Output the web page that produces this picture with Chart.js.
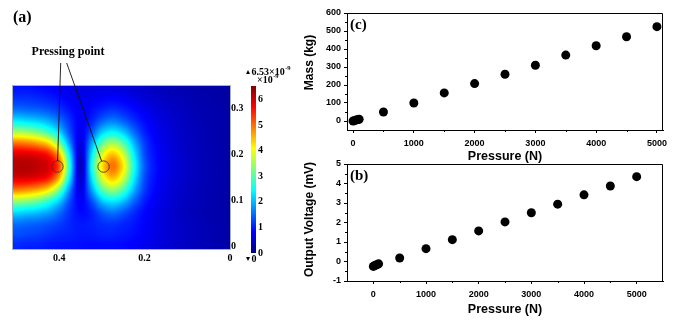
<!DOCTYPE html>
<html>
<head>
<meta charset="utf-8">
<script src="https://cdn.jsdelivr.net/npm/chart.js@4.4.1/dist/chart.umd.min.js"></script>
<style>
  html, body { margin: 0; padding: 0; background: #fff; }
  #wrap { position: relative; width: 680px; height: 320px; overflow: hidden; }
  #wrap canvas { position: absolute; }
</style>
</head>
<body>
<div id="wrap">
  <canvas id="heatChart" width="250" height="280" style="left:0;top:0"></canvas>
  <canvas id="colorBar" width="60" height="210" style="left:240px;top:60px"></canvas>
  <canvas id="massChart" width="390" height="166" style="left:290px;top:0"></canvas>
  <canvas id="voltChart" width="390" height="165" style="left:290px;top:155px"></canvas>
</div>
<script>
// Panel (a): field values (x10^-9) on a grid, rows from top (y = 0.35) to bottom (y = 0)
const heatX = [0.5, 0.475, 0.45, 0.425, 0.4, 0.375, 0.35, 0.325, 0.3, 0.275, 0.25,
               0.225, 0.2, 0.175, 0.15, 0.125, 0.1, 0.075, 0.05, 0.025, 0];
const heatY = [0.35, 0.325, 0.3, 0.275, 0.25, 0.225, 0.2, 0.175, 0.15, 0.125, 0.1, 0.075, 0.05, 0.025, 0];
const heatGrid = [
  [0.9, 0.9, 0.85, 0.8, 0.72, 0.65, 0.6, 0.6, 0.6, 0.6, 0.55, 0.5, 0.45, 0.4, 0.35, 0.32, 0.3, 0.28, 0.26, 0.24, 0.22],
  [1.1, 1.1, 1.05, 0.98, 0.88, 0.75, 0.7, 0.72, 0.78, 0.8, 0.75, 0.65, 0.55, 0.48, 0.42, 0.38, 0.34, 0.3, 0.28, 0.25, 0.23],
  [1.5, 1.45, 1.4, 1.3, 1.12, 0.9, 0.75, 0.85, 1.0, 1.1, 1.0, 0.85, 0.7, 0.58, 0.5, 0.43, 0.38, 0.33, 0.3, 0.27, 0.24],
  [2.3, 2.2, 2.1, 1.9, 1.55, 1.1, 0.75, 1.0, 1.4, 1.6, 1.4, 1.1, 0.85, 0.68, 0.56, 0.47, 0.4, 0.35, 0.31, 0.28, 0.25],
  [3.5, 3.4, 3.2, 2.8, 2.2, 1.3, 0.7, 1.3, 2.1, 2.4, 2.1, 1.5, 1.0, 0.75, 0.6, 0.5, 0.42, 0.36, 0.32, 0.28, 0.25],
  [5.0, 4.9, 4.7, 4.3, 3.3, 1.7, 0.6, 1.8, 3.0, 3.5, 3.0, 2.0, 1.2, 0.82, 0.63, 0.52, 0.44, 0.37, 0.32, 0.28, 0.25],
  [5.95, 5.95, 5.85, 5.6, 4.6, 2.3, 0.45, 2.2, 3.8, 4.5, 3.8, 2.4, 1.3, 0.88, 0.66, 0.54, 0.45, 0.38, 0.33, 0.29, 0.25],
  [6.2, 6.2, 6.1, 5.95, 5.2, 2.6, 0.35, 2.4, 4.2, 5.0, 4.2, 2.6, 1.4, 0.9, 0.68, 0.55, 0.46, 0.38, 0.33, 0.29, 0.25],
  [5.95, 5.95, 5.85, 5.6, 4.6, 2.3, 0.45, 2.2, 3.8, 4.5, 3.8, 2.4, 1.3, 0.88, 0.66, 0.54, 0.45, 0.38, 0.33, 0.29, 0.25],
  [5.0, 4.9, 4.7, 4.3, 3.3, 1.7, 0.6, 1.8, 3.0, 3.5, 3.0, 2.0, 1.2, 0.82, 0.63, 0.52, 0.44, 0.37, 0.32, 0.28, 0.25],
  [3.5, 3.4, 3.2, 2.8, 2.2, 1.3, 0.75, 1.3, 2.1, 2.4, 2.1, 1.5, 1.0, 0.75, 0.6, 0.5, 0.42, 0.36, 0.32, 0.28, 0.25],
  [2.3, 2.2, 2.1, 1.9, 1.55, 1.1, 0.85, 1.0, 1.4, 1.6, 1.4, 1.1, 0.85, 0.68, 0.56, 0.47, 0.4, 0.35, 0.31, 0.28, 0.25],
  [1.55, 1.5, 1.45, 1.35, 1.22, 1.05, 0.95, 1.0, 1.1, 1.15, 1.05, 0.95, 0.8, 0.66, 0.56, 0.48, 0.42, 0.37, 0.33, 0.29, 0.26],
  [1.3, 1.25, 1.2, 1.12, 1.05, 1.0, 0.95, 0.95, 1.0, 1.0, 0.95, 0.88, 0.78, 0.66, 0.56, 0.49, 0.43, 0.38, 0.34, 0.3, 0.27],
  [1.05, 1.0, 1.0, 0.95, 0.92, 0.9, 0.88, 0.86, 0.86, 0.86, 0.84, 0.78, 0.7, 0.62, 0.54, 0.48, 0.43, 0.38, 0.34, 0.3, 0.27]
];
const colorMax = 6.53;
const heatXTicks = [0.4, 0.2, 0];
const heatYTicks = [0, 0.1, 0.2, 0.3];
const colorTicks = [0, 1, 2, 3, 4, 5, 6];
const pressPointX = [0.404, 0.296];
const pressPointY = [0.174, 0.174];

// Panel (c): mass vs pressure
const pressureC = [0, 20, 50, 80, 100, 500, 1000, 1500, 2000, 2500, 3000, 3500, 4000, 4500, 5000];
const massKg = [0, 2, 5, 8, 10, 50, 100, 156, 208, 260, 310, 366, 418, 468, 524];
const massTicks = [0, 100, 200, 300, 400, 500, 600];
const massMinor = [50, 150, 250, 350, 450, 550];
const pressureTicksC = [0, 1000, 2000, 3000, 4000, 5000];
const pressureMinorC = [500, 1500, 2500, 3500, 4500];

// Panel (b): output voltage vs pressure
const pressureB = [0, 20, 50, 80, 100, 500, 1000, 1500, 2000, 2500, 3000, 3500, 4000, 4500, 5000];
const voltageMv = [-0.25, -0.22, -0.18, -0.15, -0.12, 0.18, 0.66, 1.12, 1.57, 2.03, 2.5, 2.94, 3.42, 3.87, 4.35];
const voltTicks = [-1, 0, 1, 2, 3, 4, 5];
const voltMinor = [-0.5, 0.5, 1.5, 2.5, 3.5, 4.5];
const pressureTicksB = [0, 1000, 2000, 3000, 4000, 5000];
const pressureMinorB = [500, 1500, 2500, 3500, 4500];

const SERIF = "'Liberation Serif', 'Times New Roman', serif";
const SANS = "'Liberation Sans', Arial, sans-serif";
Chart.defaults.font.family = SANS;
Chart.defaults.color = '#000';

// jet colour map, t in [0,1]
function jet(t) {
    t = Math.min(1, Math.max(0, t));
    const c = v => Math.round(255 * Math.min(1, Math.max(0, v)));
    return [c(1.5 - Math.abs(4 * t - 3)), c(1.5 - Math.abs(4 * t - 2)), c(1.5 - Math.abs(4 * t - 1))];
}

function cubic(p0, p1, p2, p3, t) {
    return p1 + 0.5 * t * (p2 - p0 + t * (2 * p0 - 5 * p1 + 4 * p2 - p3 + t * (3 * (p1 - p2) + p3 - p0)));
}

// smooth sample of the grid at fractional column / row
function sampleGrid(gx, gy) {
    const nc = heatX.length, nr = heatY.length;
    gx = Math.min(nc - 1, Math.max(0, gx));
    gy = Math.min(nr - 1, Math.max(0, gy));
    const i = Math.floor(gx), j = Math.floor(gy);
    const tx = gx - i, ty = gy - j;
    const ci = k => Math.min(nc - 1, Math.max(0, k));
    const rj = k => Math.min(nr - 1, Math.max(0, k));
    const col = [];
    for (let m = -1; m <= 2; m++) {
        const row = heatGrid[rj(j + m)];
        col.push(cubic(row[ci(i - 1)], row[ci(i)], row[ci(i + 1)], row[ci(i + 2)], tx));
    }
    return cubic(col[0], col[1], col[2], col[3], ty);
}

// Heat field plugin
const heatField = {
    id: 'heatField',
    beforeDatasetsDraw(chart) {
        const { ctx, chartArea: a, scales: { x, y } } = chart;
        const w = Math.round(a.right - a.left), h = Math.round(a.bottom - a.top);
        const off = document.createElement('canvas');
        off.width = w; off.height = h;
        const octx = off.getContext('2d');
        const img = octx.createImageData(w, h);
        const dx = heatX[0] - heatX[1], dy = heatY[0] - heatY[1];
        for (let py = 0; py < h; py++) {
            const gy = (heatY[0] - y.getValueForPixel(a.top + py + 0.5)) / dy;
            for (let px = 0; px < w; px++) {
                const gx = (heatX[0] - x.getValueForPixel(a.left + px + 0.5)) / dx;
                const v = Math.min(colorMax, Math.max(0, sampleGrid(gx, gy)));
                const rgb = jet(v / colorMax);
                const k = (py * w + px) * 4;
                img.data[k] = rgb[0]; img.data[k + 1] = rgb[1]; img.data[k + 2] = rgb[2]; img.data[k + 3] = 255;
            }
        }
        octx.putImageData(img, 0, 0);
        ctx.drawImage(off, a.left, a.top);
        ctx.save();
        ctx.strokeStyle = '#a9b0c0';
        ctx.lineWidth = 1;
        ctx.strokeRect(a.left - 0.5, a.top - 0.5, w + 1, h + 1);
        ctx.restore();
    },
    afterDraw(chart) {
        const { ctx, scales: { x, y } } = chart;
        ctx.save();
        ctx.fillStyle = '#000';
        ctx.textBaseline = 'middle';
        ctx.font = 'bold 16px ' + SERIF;
        ctx.fillText('(a)', 13, 18);
        ctx.font = 'bold 12px ' + SERIF;
        ctx.textAlign = 'center';
        ctx.fillText('Pressing point', 68, 52);
        // leader lines to the two pressing points
        const starts = [[60.7, 63], [66.7, 63]];
        ctx.strokeStyle = '#111';
        ctx.lineWidth = 0.9;
        starts.forEach((s, i) => {
            const cx = x.getPixelForValue(pressPointX[i]);
            const cy = y.getPixelForValue(pressPointY[i]);
            const len = Math.hypot(s[0] - cx, s[1] - cy);
            const ex = cx + 5.7 * (s[0] - cx) / len, ey = cy + 5.7 * (s[1] - cy) / len;
            ctx.beginPath();
            ctx.moveTo(s[0], s[1]);
            ctx.lineTo(ex, ey);
            ctx.stroke();
        });
        ctx.restore();
    }
};

new Chart(document.getElementById('heatChart'), {
    type: 'scatter',
    data: {
        datasets: [{
            data: pressPointX.map((v, i) => ({ x: v, y: pressPointY[i] })),
            pointRadius: 5.7,
            pointBackgroundColor: 'rgba(0,0,0,0)',
            pointBorderColor: '#3a3a3a',
            pointBorderWidth: 0.9
        }]
    },
    options: {
        responsive: false, animation: false, events: [],
        layout: { padding: { left: 13, top: 86, right: 0, bottom: 9 } },
        plugins: { legend: { display: false }, tooltip: { enabled: false } },
        scales: {
            x: {
                type: 'linear', min: 0, max: 0.508, reverse: true,
                afterBuildTicks: s => { s.ticks = heatXTicks.map(v => ({ value: v })); },
                afterFit: s => { s.height = 22; },
                ticks: { font: { family: SERIF, size: 10, weight: 'bold' }, padding: 3, callback: v => String(v) },
                grid: { display: false, drawTicks: false },
                border: { display: false }
            },
            y: {
                type: 'linear', position: 'right', min: -0.006, max: 0.35,
                afterBuildTicks: s => { s.ticks = heatYTicks.map(v => ({ value: v })); },
                afterFit: s => { s.width = 20; },
                ticks: { font: { family: SERIF, size: 10, weight: 'bold' }, padding: 1, callback: v => String(v) },
                grid: { display: false, drawTicks: false },
                border: { display: false }
            }
        }
    },
    plugins: [heatField]
});

// Colour bar
function drawSup(ctx, base, sup, x, y, size) {
    ctx.font = 'bold ' + size + 'px ' + SERIF;
    ctx.fillText(base, x, y);
    const w = ctx.measureText(base).width;
    ctx.font = 'bold ' + (size * 0.65) + 'px ' + SERIF;
    ctx.fillText(sup, x + w + 0.5, y - size * 0.35);
}

const colorBarFill = {
    id: 'colorBarFill',
    beforeDatasetsDraw(chart) {
        const { ctx, chartArea: a, scales: { y } } = chart;
        const y0 = y.getPixelForValue(0), y1 = y.getPixelForValue(colorMax);
        const g = ctx.createLinearGradient(0, y0, 0, y1);
        [0, 0.125, 0.375, 0.625, 0.875, 1].forEach(t => {
            const c = jet(t);
            g.addColorStop(t, `rgb(${c[0]},${c[1]},${c[2]})`);
        });
        ctx.save();
        ctx.fillStyle = g;
        ctx.fillRect(a.left, y1, a.right - a.left, y0 - y1);
        ctx.fillStyle = '#000';
        ctx.textBaseline = 'middle';
        ctx.font = 'bold 8px DejaVu Sans';
        ctx.fillText('\u25B4', a.left - 5, a.top - 14);
        drawSup(ctx, '6.53\u00D710', '-9', a.left + 0.5, a.top - 14, 10);
        drawSup(ctx, '\u00D710', '-9', a.left + 6, a.top - 6, 10);
        ctx.font = 'bold 8px DejaVu Sans';
        ctx.fillText('\u25BE', a.left - 5, a.bottom + 6);
        ctx.font = 'bold 10px ' + SERIF;
        ctx.fillText('0', a.left + 0.5, a.bottom + 6);
        ctx.restore();
    }
};

new Chart(document.getElementById('colorBar'), {
    type: 'scatter',
    data: { datasets: [] },
    options: {
        responsive: false, animation: false, events: [],
        layout: { padding: { left: 11, top: 26, right: 0, bottom: 17 } },
        plugins: { legend: { display: false }, tooltip: { enabled: false } },
        scales: {
            x: { type: 'linear', display: false, min: 0, max: 1 },
            y: {
                type: 'linear', position: 'right', min: 0, max: colorMax,
                afterBuildTicks: s => { s.ticks = colorTicks.map(v => ({ value: v })); },
                afterFit: s => { s.width = 44; },
                ticks: { font: { family: SERIF, size: 10, weight: 'bold' }, padding: 2, callback: v => String(v) },
                grid: { display: false, drawTicks: false },
                border: { display: false }
            }
        }
    },
    plugins: [colorBarFill]
});

// Frame, minor ticks, y title and panel letter for the scatter panels
const frameBox = {
    id: 'frameBox',
    afterDraw(chart, args, opts) {
        const { ctx, chartArea: a, scales: { x, y } } = chart;
        ctx.save();
        ctx.strokeStyle = '#000';
        ctx.lineWidth = 1;
        ctx.beginPath();
        ctx.moveTo(a.left, a.top + 0.5);
        ctx.lineTo(a.right - 0.5, a.top + 0.5);
        ctx.lineTo(a.right - 0.5, a.bottom);
        ctx.stroke();
        ctx.beginPath();
        opts.xMinor.forEach(v => {
            const px = Math.round(x.getPixelForValue(v)) + 0.5;
            ctx.moveTo(px, a.bottom);
            ctx.lineTo(px, a.bottom + 2);
        });
        opts.yMinor.forEach(v => {
            const py = Math.round(y.getPixelForValue(v)) + 0.5;
            ctx.moveTo(a.left - 2, py);
            ctx.lineTo(a.left, py);
        });
        ctx.stroke();
        ctx.fillStyle = '#000';
        ctx.textBaseline = 'middle';
        ctx.font = 'bold 15px ' + SERIF;
        ctx.fillText(opts.label, a.left + 3, a.top + 12);
        // y axis title
        ctx.translate(20, (a.top + a.bottom) / 2 - opts.yTitleShift);
        ctx.rotate(-Math.PI / 2);
        ctx.textAlign = 'center';
        ctx.font = 'bold 12px ' + SANS;
        ctx.fillText(opts.yTitle, 0, 0);
        ctx.restore();
    }
};

function axisCfg(min, max, ticks, title, size, titlePad, isY) {
    return {
        type: 'linear', min: min, max: max,
        afterBuildTicks: s => { s.ticks = ticks.map(v => ({ value: v })); },
        afterFit: s => { if (isY) s.width = size; else s.height = size; },
        ticks: { font: { size: 9, weight: 'bold' }, padding: isY ? 3 : 5, callback: v => String(v) },
        grid: { display: true, drawOnChartArea: false, drawTicks: true, tickLength: 3, color: '#000', lineWidth: 1 },
        border: { display: true, color: '#000', width: 1 },
        title: { display: !isY, text: title, font: { size: 12.5, weight: 'bold' }, padding: titlePad }
    };
}

function buildScatter(id, xs, ys, cfg) {
    return new Chart(document.getElementById(id), {
        type: 'scatter',
        data: {
            datasets: [{
                data: xs.map((v, i) => ({ x: v, y: ys[i] })),
                pointRadius: 4.5,
                pointBackgroundColor: '#000',
                pointBorderWidth: 0
            }]
        },
        options: {
            responsive: false, animation: false, events: [],
            layout: { padding: cfg.padding },
            plugins: {
                legend: { display: false },
                tooltip: { enabled: false },
                frameBox: { label: cfg.label, xMinor: cfg.xMinor, yMinor: cfg.yMinor, yTitle: cfg.yTitle, yTitleShift: cfg.yTitleShift }
            },
            scales: {
                x: axisCfg(cfg.xMin, cfg.xMax, cfg.xTicks, 'Pressure (N)', cfg.xAxisH, { top: 0, bottom: cfg.xTitlePad }, false),
                y: axisCfg(cfg.yMin, cfg.yMax, cfg.yTicks, cfg.yTitle, 57, 0, true)
            }
        },
        plugins: [frameBox]
    });
}

buildScatter('massChart', pressureC, massKg, {
    label: '(c)', padding: { left: 0, top: 13, right: 17, bottom: 0 },
    xMin: -100, xMax: 5100, xTicks: pressureTicksC, xMinor: pressureMinorC, xAxisH: 36, xTitlePad: 2,
    yMin: -50, yMax: 600, yTicks: massTicks, yMinor: massMinor, yTitle: 'Mass (kg)', yTitleShift: 9
});

buildScatter('voltChart', pressureB, voltageMv, {
    label: '(b)', padding: { left: 0, top: 9, right: 17, bottom: 0 },
    xMin: -500, xMax: 5500, xTicks: pressureTicksB, xMinor: pressureMinorB, xAxisH: 39, xTitlePad: 3,
    yMin: -1, yMax: 5, yTicks: voltTicks, yMinor: voltMinor, yTitle: 'Output Voltage (mV)', yTitleShift: 3
});
</script>
</body>
</html>
